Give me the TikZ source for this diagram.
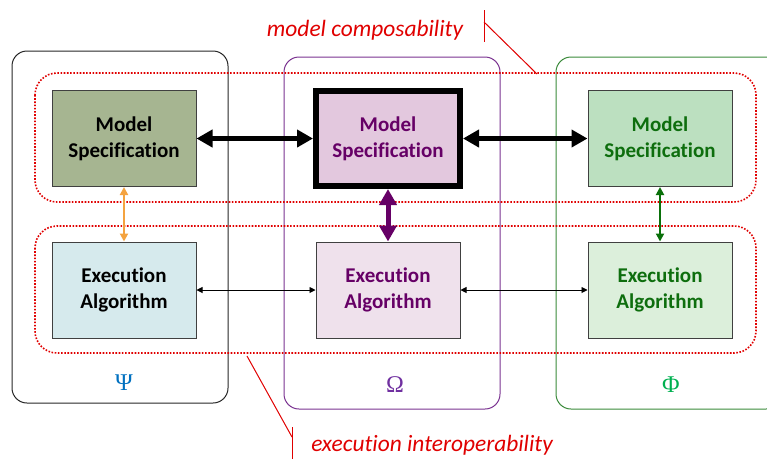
\documentclass[tikz,border=0pt]{standalone}
\usepackage{fontspec}
\setmainfont[Ligatures=CommonOff]{Carlito}
\newfontfamily\greekfont{Liberation Serif}
\usetikzlibrary{arrows.meta}
\definecolor{redline}{HTML}{E00000}
\definecolor{psiblue}{HTML}{0070C0}
\definecolor{ompurple}{HTML}{7030A0}
\definecolor{phigreen}{HTML}{00B050}
\definecolor{colpurple}{HTML}{7A3290}
\definecolor{colgreen}{HTML}{3A8A3A}
\definecolor{txtpurple}{HTML}{660066}
\definecolor{txtgreen}{HTML}{0E6E0E}
\definecolor{lmsfill}{HTML}{A6B591}
\definecolor{leafill}{HTML}{D6EAED}
\definecolor{mmsfill}{HTML}{E3C8DE}
\definecolor{meafill}{HTML}{EFE1EC}
\definecolor{rmsfill}{HTML}{BCE0C0}
\definecolor{reafill}{HTML}{DCEFDB}
\definecolor{orangearrow}{HTML}{F4A340}
\definecolor{purplearrow}{HTML}{660066}
\definecolor{greenarrow}{HTML}{0A700A}
\tikzset{
  blockbox/.style={draw=black!75, line width=1pt, minimum width=144pt, minimum height=96pt,
    align=center, inner sep=0pt, font=\fontsize{21}{26}\selectfont\bfseries},
  colbox/.style={line width=1pt, rounded corners=15pt},
  dotbox/.style={draw=redline, line width=1.6pt, dash pattern=on 1.6pt off 1.6pt, rounded corners=22pt},
  bigarrow/.style={line width=5pt, {Triangle[length=16pt,width=17pt]}-{Triangle[length=16pt,width=17pt]}},
  thinarrow/.style={line width=0.9pt, {Triangle[length=6pt,width=6pt]}-{Triangle[length=6pt,width=6pt]}},
  midarrow/.style={line width=2.5pt, {Triangle[length=8pt,width=8pt]}-{Triangle[length=8pt,width=8pt]}},
  callout/.style={draw=redline, line width=1pt},
  calltext/.style={text=redline, font=\fontsize{23.4}{27}\selectfont\itshape},
  greek/.style={font=\greekfont\fontsize{24}{28}\selectfont}
}
\begin{document}
\begin{tikzpicture}[x=1pt,y=-1pt]
\useasboundingbox (0,0) rectangle (767,459);
% columns
\draw[colbox, draw=black!85] (12,51) rectangle (228,403);
\draw[colbox, draw=colpurple] (284,57) rectangle (500,409);
\draw[colbox, draw=colgreen] (556,57) rectangle (781,409);
% dotted groups
\draw[dotbox] (35,73) rectangle (756,202);
\draw[dotbox] (35,226) rectangle (756,353);
% blocks
\node[blockbox, fill=lmsfill] (lms) at (124,138.5) {Model\\Specification};
\node[blockbox, fill=leafill] (lea) at (124,290) {Execution\\Algorithm};
\node[blockbox, fill=mmsfill, draw=black, line width=6pt, minimum height=95pt, text=txtpurple] (mms) at (388,138.5) {Model\\Specification};
\node[blockbox, fill=meafill, text=txtpurple] (mea) at (388,290) {Execution\\Algorithm};
\node[blockbox, fill=rmsfill, text=txtgreen] (rms) at (660,138.5) {Model\\Specification};
\node[blockbox, fill=reafill, text=txtgreen] (rea) at (660,290) {Execution\\Algorithm};
% arrows
\draw[bigarrow] (lms.east) -- (mms.west);
\draw[bigarrow] (mms.east) -- (rms.west);
\draw[thinarrow] (lea.east) -- (mea.west);
\draw[thinarrow] (mea.east) -- (rea.west);
\draw[midarrow, draw=orangearrow, color=orangearrow] (lms.south) -- (lea.north);
\draw[midarrow, draw=greenarrow, color=greenarrow] (rms.south) -- (rea.north);
\draw[bigarrow, draw=purplearrow, color=purplearrow] (mms.south) -- (mea.north);
% greek labels
\node[greek, text=psiblue] (psi) at (124,383) {Ψ};
\node[greek, text=ompurple] (omega) at (395,385) {Ω};
\node[greek, text=phigreen] (phi) at (671,385) {Φ};
% callouts
\node[calltext] (mc) at (365,30) {model composability};
\coordinate (mcbt) at (484,10);
\coordinate (mcbb) at (484,42);
\coordinate (mcj) at (484,22);
\coordinate (mce) at (537,74);
\draw[callout] (mcbt) -- (mcbb);
\draw[callout] (mcj) -- (mce);
\node[calltext] (ei) at (432,445) {execution interoperability};
\coordinate (eibt) at (292,427);
\coordinate (eibb) at (292,459);
\coordinate (eij) at (292,437);
\coordinate (eie) at (247,356);
\draw[callout] (eibt) -- (eibb);
\draw[callout] (eij) -- (eie);
\end{tikzpicture}
\end{document}
